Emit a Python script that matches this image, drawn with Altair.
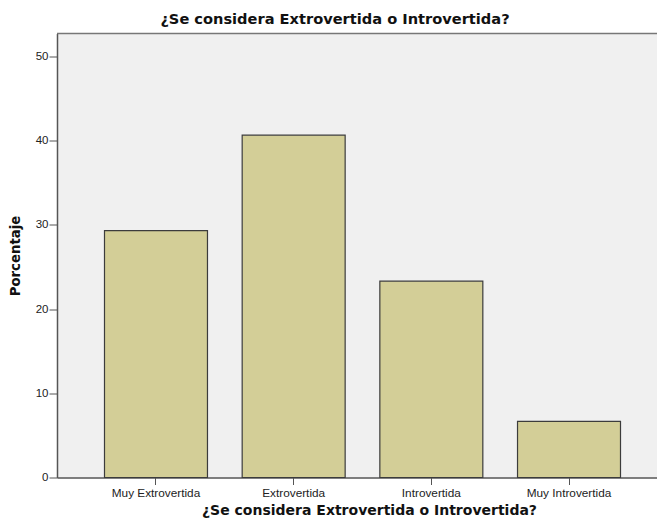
import altair as alt
import pandas as pd

categorias = ["Muy Extrovertida", "Extrovertida", "Introvertida", "Muy Introvertida"]
porcentajes = [29.33, 40.67, 23.33, 6.67]
y_ticks = [0, 10, 20, 30, 40, 50]

titulo = "¿Se considera Extrovertida o Introvertida?"

df = pd.DataFrame({"categoria": categorias, "porcentaje": porcentajes})

FONT = "Liberation Sans"
TFONT = "DejaVu Sans"

bars = (
    alt.Chart(df)
    .mark_bar(fill="#D3CE97", stroke="#3C3C3C", strokeWidth=1.2)
    .encode(
        x=alt.X(
            "categoria:N",
            sort=categorias,
            scale=alt.Scale(paddingInner=0.252, paddingOuter=0.345, range=[0, 611]),
            axis=alt.Axis(
                title=titulo,
                labelAngle=0,
                labelFont=FONT,
                labelFontSize=11.8,
                labelColor="#222222",
                labelPadding=3,
                tickSize=7,
                tickColor="#555555",
                domainColor="#555555",
                domainWidth=1.5,
                titleFont=TFONT,
                titleFontSize=14,
                titleFontWeight="bold",
                titleColor="#111111",
                titleX=312,
                titleY=37,
                titleBaseline="alphabetic",
            ),
        ),
        y=alt.Y(
            "porcentaje:Q",
            scale=alt.Scale(domain=[0, 52.75], nice=False),
            axis=alt.Axis(
                title="Porcentaje",
                values=y_ticks,
                grid=False,
                labelFont=FONT,
                labelFontSize=11.5,
                labelColor="#222222",
                labelPadding=1,
                tickSize=8,
                tickColor="#555555",
                domainColor="#555555",
                domainWidth=1.5,
                titleFont=TFONT,
                titleFontSize=13.3,
                titleFontWeight="bold",
                titleColor="#111111",
                titleX=-38,
                titleY=222,
                titleBaseline="alphabetic",
            ),
        ),
    )
)

border = (
    alt.Chart(pd.DataFrame({"borde": [0]}))
    .mark_rule(color="#777777", strokeWidth=1.5)
    .encode(x=alt.value(0), x2=alt.value(600), y=alt.value(0))
)

chart = (
    alt.layer(bars, border)
    .properties(
        width=600,
        height=444,
        autosize=alt.AutoSizeParams(type="none"),
        padding={"left": 49, "top": 25.5, "right": 0, "bottom": 43},
        title=alt.TitleParams(
            text=titulo,
            font=TFONT,
            fontSize=14.6,
            fontWeight="bold",
            color="#111111",
            anchor="middle",
            dx=-22,
            offset=6,
        ),
    )
    .configure_view(fill="#F0F0F0", stroke=None)
)

chart.save("out.html", embed_options={"renderer": "svg", "actions": False})
